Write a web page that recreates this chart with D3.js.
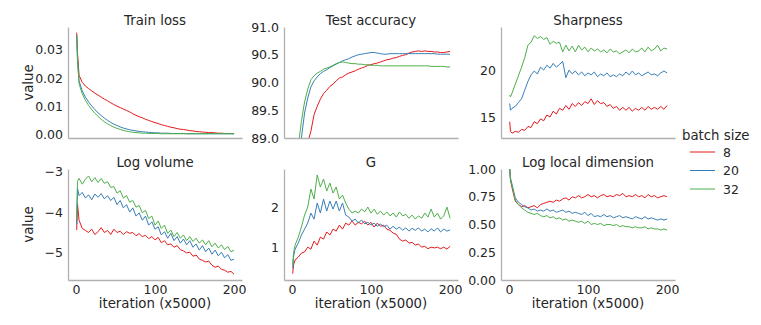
<!DOCTYPE html>
<html>
<head>
<meta charset="utf-8">
<script src="https://cdn.jsdelivr.net/npm/d3@7"></script>
<style>
  body { margin: 0; background: #fff; }
  svg { font-family: "DejaVu Sans", sans-serif; }
</style>
</head>
<body>
<svg id="chart" width="761" height="325"></svg>
<script>
var iters = [1, 2, 4, 8, 12, 16, 20, 24, 28, 32, 36, 40, 44, 48, 52, 56, 60, 64, 68, 72, 76, 80, 84, 88, 92, 96,
    100, 104, 108, 112, 116, 120, 124, 128, 132, 136, 140, 144, 148, 152, 156, 160, 164, 168, 172, 176, 180, 184, 188, 192, 196, 200];

var batchSizes = ["8", "20", "32"];
var colors = ["#e41a1c", "#377eb8", "#4daf4a"];

var trainLoss8 = [0.036, 0.029, 0.021, 0.0185, 0.0172, 0.0163, 0.0155, 0.0147, 0.014, 0.0133, 0.0126, 0.012, 0.0113, 0.0107, 0.0101, 0.0096,
    0.0091, 0.0086, 0.0081, 0.0074, 0.0069, 0.0064, 0.006, 0.0055, 0.0051, 0.0047, 0.0043, 0.004, 0.0036, 0.0033, 0.003, 0.0027, 0.0025,
    0.0022, 0.002, 0.0019, 0.0017, 0.0015, 0.0014, 0.0012, 0.0011, 0.001, 0.0009, 0.0008, 0.0008, 0.0007, 0.0006, 0.0006, 0.0005, 0.0005, 0.0005, 0.0004];
var trainLoss20 = [0.035, 0.027, 0.019, 0.0155, 0.0133, 0.0116, 0.0102, 0.0089, 0.0078, 0.0068, 0.0059, 0.0051, 0.0044, 0.0038, 0.0033, 0.0028,
    0.0024, 0.0021, 0.0018, 0.0016, 0.0014, 0.0012, 0.0011, 0.001, 0.0009, 0.0008, 0.0007, 0.0007, 0.0006, 0.0006, 0.0006, 0.0005, 0.0005,
    0.0005, 0.0005, 0.0005, 0.0004, 0.0004, 0.0004, 0.0004, 0.0004, 0.0004, 0.0004, 0.0004, 0.0004, 0.0004, 0.0004, 0.0004, 0.0004, 0.0004, 0.0004, 0.0004];
var trainLoss32 = [0.035, 0.026, 0.018, 0.0145, 0.0122, 0.0104, 0.0089, 0.0076, 0.0065, 0.0055, 0.0046, 0.0039, 0.0033, 0.0027, 0.0023, 0.0019,
    0.0016, 0.0013, 0.0011, 0.0009, 0.0008, 0.0007, 0.0006, 0.0006, 0.0005, 0.0005, 0.0005, 0.0005, 0.0004, 0.0004, 0.0004, 0.0004, 0.0004,
    0.0004, 0.0004, 0.0004, 0.0004, 0.0004, 0.0004, 0.0004, 0.0004, 0.0004, 0.0004, 0.0004, 0.0004, 0.0004, 0.0004, 0.0004, 0.0004, 0.0004, 0.0004, 0.0004];

var testAcc8 = [86.6, 86.9, 87.4, 88.0, 88.4, 88.7, 88.92, 89.12, 89.42, 89.57, 89.7, 89.8, 89.86, 89.93, 89.97, 90.03, 90.08, 90.1, 90.14,
    90.17, 90.19, 90.21, 90.24, 90.26, 90.28, 90.31, 90.32, 90.34, 90.35, 90.37, 90.39, 90.41, 90.42, 90.44, 90.45, 90.47, 90.49, 90.5,
    90.53, 90.55, 90.56, 90.57, 90.56, 90.57, 90.56, 90.56, 90.55, 90.55, 90.54, 90.54, 90.55, 90.56];
var testAcc20 = [87.6, 87.8, 88.2, 88.65, 89.0, 89.45, 89.72, 89.92, 90.03, 90.1, 90.16, 90.2, 90.23, 90.27, 90.3, 90.33, 90.36, 90.39, 90.41,
    90.43, 90.46, 90.48, 90.5, 90.51, 90.52, 90.53, 90.54, 90.54, 90.53, 90.52, 90.51, 90.51, 90.52, 90.52, 90.52, 90.52, 90.52, 90.52,
    90.52, 90.52, 90.52, 90.52, 90.52, 90.52, 90.52, 90.52, 90.52, 90.51, 90.51, 90.51, 90.51, 90.51];
var testAcc32 = [87.9, 88.1, 88.45, 88.85, 89.3, 89.65, 89.88, 90.05, 90.12, 90.17, 90.2, 90.24, 90.26, 90.28, 90.31, 90.34, 90.36, 90.37, 90.36,
    90.35, 90.34, 90.34, 90.33, 90.33, 90.32, 90.32, 90.31, 90.31, 90.31, 90.3, 90.3, 90.3, 90.3, 90.3, 90.3, 90.3, 90.3, 90.3,
    90.3, 90.3, 90.3, 90.3, 90.3, 90.3, 90.3, 90.29, 90.29, 90.29, 90.29, 90.29, 90.28, 90.28];

var sharp8 = [14.6, 13.6, 13.4, 13.6, 13.5, 13.8, 13.7, 14.1, 14.0, 14.6, 14.4, 14.9, 14.7, 15.3, 15.1, 15.7, 15.4, 16.0, 15.8, 16.3, 15.9,
    16.5, 16.2, 16.6, 16.3, 16.7, 16.5, 17.0, 16.4, 16.8, 16.5, 16.6, 16.2, 16.4, 16.0, 16.2, 15.8, 16.1, 15.8, 16.1, 15.7, 16.0, 15.8,
    16.1, 15.8, 16.2, 15.9, 16.1, 15.9, 16.2, 15.9, 16.3];
var sharp20 = [16.5, 15.8, 16.0, 16.2, 16.6, 17.0, 17.9, 18.8, 19.5, 19.9, 19.6, 20.3, 20.0, 20.5, 20.2, 20.7, 20.3, 20.6, 20.9, 19.2, 20.0,
    19.6, 19.9, 19.5, 19.8, 19.4, 19.7, 19.5, 19.8, 19.3, 19.6, 19.4, 19.7, 19.3, 19.5, 19.3, 19.6, 19.4, 19.8, 19.5, 19.9, 19.5, 19.7,
    19.4, 19.6, 19.8, 19.5, 19.6, 19.4, 19.7, 19.9, 19.7];
var sharp32 = [17.4, 17.2, 17.6, 18.5, 19.4, 20.3, 21.3, 22.6, 22.9, 23.6, 23.3, 23.5, 23.2, 23.4, 22.7, 23.0, 22.8, 22.9, 21.9, 22.6, 22.0,
    22.5, 21.9, 22.6, 22.1, 22.4, 21.9, 22.3, 22.0, 22.2, 21.9, 22.1, 21.8, 22.2, 21.9, 22.0, 21.7, 21.9, 22.1, 21.8, 22.2, 21.9, 22.0,
    22.3, 21.9, 22.4, 22.0, 22.2, 22.6, 22.0, 22.3, 22.2];

var logVol8 = [-4.44, -3.8, -4.2, -4.4, -4.45, -4.5, -4.42, -4.55, -4.48, -4.38, -4.5, -4.45, -4.55, -4.42, -4.5, -4.47, -4.55, -4.48, -4.52,
    -4.5, -4.58, -4.53, -4.6, -4.57, -4.65, -4.6, -4.68, -4.62, -4.75, -4.7, -4.8, -4.78, -4.86, -4.82, -4.92, -4.95, -5.0, -4.98, -5.08,
    -5.05, -5.15, -5.18, -5.22, -5.2, -5.3, -5.35, -5.32, -5.4, -5.42, -5.47, -5.45, -5.52];
var logVol20 = [-4.3, -3.42, -3.6, -3.52, -3.66, -3.58, -3.7, -3.56, -3.64, -3.55, -3.68, -3.6, -3.72, -3.64, -3.82, -3.72, -3.9, -3.82,
    -4.0, -3.9, -4.1, -4.02, -4.2, -4.1, -4.32, -4.24, -4.42, -4.36, -4.56, -4.48, -4.64, -4.52, -4.7, -4.6, -4.76, -4.66, -4.8, -4.7,
    -4.86, -4.78, -4.93, -4.82, -4.97, -4.88, -5.03, -4.93, -5.07, -4.98, -5.12, -5.04, -5.18, -5.15];
var logVol32 = [-4.2, -3.25, -3.18, -3.32, -3.2, -3.12, -3.26, -3.16, -3.28, -3.18, -3.3, -3.26, -3.4, -3.38, -3.54, -3.48, -3.66, -3.6,
    -3.76, -3.72, -3.88, -3.84, -4.02, -3.96, -4.16, -4.1, -4.32, -4.22, -4.4, -4.32, -4.52, -4.44, -4.6, -4.5, -4.64, -4.56, -4.7, -4.6,
    -4.72, -4.64, -4.76, -4.68, -4.8, -4.7, -4.85, -4.76, -4.88, -4.8, -4.92, -4.84, -4.97, -4.93];

var gVal8 = [0.34, 0.55, 0.68, 0.75, 0.85, 0.88, 1.0, 0.95, 1.15, 1.05, 1.25, 1.2, 1.38, 1.3, 1.45, 1.4, 1.55, 1.45, 1.6, 1.55, 1.65, 1.55,
    1.62, 1.58, 1.65, 1.55, 1.62, 1.5, 1.6, 1.52, 1.55, 1.45, 1.42, 1.35, 1.32, 1.2, 1.15, 1.18, 1.1, 1.12, 1.05, 1.08, 1.0, 1.02, 0.96,
    1.0, 0.98, 1.0, 0.96, 1.0, 0.95, 1.02];
var gVal20 = [0.47, 0.75, 0.95, 1.1, 1.3, 1.45, 1.6, 1.85, 1.7, 2.1, 1.85, 2.2, 1.9, 2.15, 1.95, 2.15, 1.9, 2.1, 1.8, 1.75, 1.65, 1.7, 1.6,
    1.68, 1.58, 1.62, 1.55, 1.6, 1.52, 1.58, 1.5, 1.55, 1.45, 1.52, 1.45, 1.5, 1.42, 1.48, 1.4, 1.47, 1.42, 1.48, 1.4, 1.45, 1.38, 1.46,
    1.4, 1.48, 1.38, 1.45, 1.4, 1.43];
var gVal32 = [0.55, 0.85, 1.05, 1.25, 1.5, 1.8, 2.0, 2.45, 2.2, 2.8, 2.5, 2.7, 2.4, 2.6, 2.35, 2.5, 2.2, 2.3, 2.1, 1.95, 1.85, 1.9, 1.85,
    1.95, 1.88, 2.0, 1.85, 1.95, 1.82, 1.9, 1.8, 1.88, 1.78, 1.85, 1.75, 1.88, 1.78, 1.82, 1.72, 1.8, 1.7, 1.78, 1.72, 1.85, 1.75, 1.95,
    1.75, 1.85, 1.7, 1.78, 2.0, 1.72];

var logDim8 = [1.0, 0.9, 0.83, 0.71, 0.68, 0.66, 0.67, 0.65, 0.66, 0.67, 0.65, 0.68, 0.69, 0.7, 0.71, 0.7, 0.72, 0.71, 0.73, 0.74, 0.72,
    0.75, 0.74, 0.76, 0.74, 0.75, 0.77, 0.75, 0.76, 0.74, 0.76, 0.77, 0.75, 0.76, 0.75, 0.77, 0.76, 0.78, 0.75, 0.76, 0.75, 0.77, 0.75,
    0.76, 0.74, 0.77, 0.75, 0.76, 0.74, 0.75, 0.76, 0.75];
var logDim20 = [1.0, 0.92, 0.86, 0.74, 0.7, 0.68, 0.66, 0.65, 0.63, 0.64, 0.62, 0.63, 0.62, 0.64, 0.62, 0.63, 0.61, 0.62, 0.63, 0.61, 0.62,
    0.6, 0.61, 0.6, 0.59, 0.61, 0.58, 0.6, 0.57, 0.58, 0.57, 0.59, 0.57, 0.58, 0.56, 0.57, 0.58, 0.56, 0.57, 0.56, 0.55, 0.57, 0.56,
    0.55, 0.57, 0.55, 0.56, 0.55, 0.54, 0.55, 0.54, 0.55];
var logDim32 = [1.0, 0.9, 0.85, 0.72, 0.68, 0.65, 0.63, 0.61, 0.6, 0.59, 0.6, 0.58, 0.57, 0.58, 0.56, 0.57, 0.55, 0.56, 0.54, 0.55, 0.53,
    0.54, 0.53, 0.52, 0.53, 0.51, 0.53, 0.5, 0.51, 0.5, 0.51, 0.49, 0.5, 0.5, 0.49, 0.5, 0.48, 0.49, 0.48, 0.48, 0.47, 0.48, 0.47,
    0.47, 0.48, 0.46, 0.47, 0.46, 0.46, 0.45, 0.46, 0.45];

var xTicks = [0, 100, 200];

var panels = [
    { title: "Train loss", series: [trainLoss8, trainLoss20, trainLoss32], domain: [-0.0011, 0.038], ticks: [0, 0.01, 0.02, 0.03], fmt: ".2f", col: 0, row: 0 },
    { title: "Test accuracy", series: [testAcc8, testAcc20, testAcc32], domain: [89, 91], ticks: [89, 89.5, 90, 90.5, 91], fmt: ".1f", col: 1, row: 0 },
    { title: "Sharpness", series: [sharp8, sharp20, sharp32], domain: [12.9, 24.5], ticks: [15, 20], fmt: "d", col: 2, row: 0 },
    { title: "Log volume", series: [logVol8, logVol20, logVol32], domain: [-5.66, -2.95], ticks: [-5, -4, -3], fmt: "d", col: 0, row: 1 },
    { title: "G", series: [gVal8, gVal20, gVal32], domain: [0.18, 2.95], ticks: [1, 2], fmt: "d", col: 1, row: 1 },
    { title: "Log local dimension", series: [logDim8, logDim20, logDim32], domain: [0, 1], ticks: [0, 0.25, 0.5, 0.75, 1], fmt: ".2f", col: 2, row: 1 }
];

var svg = d3.select("#chart");
var lefts = [68, 284, 501];
var tops = [27, 169];
var pw = 174, ph = 111;
var axisColor = "#b0b0b0";
var textColor = "#262626";

panels.forEach(function(p, i) {
    var x0 = lefts[p.col], y0 = tops[p.row];
    var g = svg.append("g").attr("transform", "translate(" + x0 + "," + y0 + ")");

    var x = d3.scaleLinear().domain([-10, 210]).range([0, pw]);
    var y = d3.scaleLinear().domain(p.domain).range([ph, 0]);

    g.append("clipPath").attr("id", "clip" + i)
        .append("rect").attr("x", 0).attr("y", -2).attr("width", pw).attr("height", ph + 2);

    var line = d3.line()
        .x(function(d, j) { return x(iters[j]); })
        .y(function(d) { return y(d); });

    var lines = g.append("g").attr("clip-path", "url(#clip" + i + ")");
    p.series.forEach(function(s, k) {
        lines.append("path")
            .datum(s)
            .attr("fill", "none")
            .attr("stroke", colors[k])
            .attr("stroke-width", 1)
            .attr("stroke-linejoin", "round")
            .attr("d", line);
    });

    var fmt = d3.format(p.fmt);
    var yAxis = g.append("g")
        .call(d3.axisLeft(y).tickValues(p.ticks).tickSize(0).tickPadding(5)
            .tickFormat(function(d) { return fmt(d).replace("-", "\u2212"); }));
    yAxis.select(".domain").attr("stroke", axisColor).attr("stroke-width", 1.3);
    yAxis.selectAll("text").attr("fill", textColor).style("font-size", "12.5px").style("font-family", "DejaVu Sans");

    var xAxis = g.append("g").attr("transform", "translate(0," + ph + ")")
        .call(d3.axisBottom(x).tickValues(p.row === 1 ? xTicks : []).tickSize(0).tickPadding(5));
    xAxis.select(".domain").attr("stroke", axisColor).attr("stroke-width", 1.3);
    xAxis.selectAll("text").attr("fill", textColor).style("font-size", "12.5px").style("font-family", "DejaVu Sans");

    g.append("text")
        .attr("x", pw / 2)
        .attr("y", -2)
        .attr("text-anchor", "middle")
        .attr("fill", textColor)
        .style("font-size", "13.3px")
        .text(p.title);

    if (p.row === 1) {
        g.append("text")
            .attr("x", pw / 2)
            .attr("y", ph + 28)
            .attr("text-anchor", "middle")
            .attr("fill", textColor)
            .style("font-size", "13.3px")
            .text("iteration (x5000)");
    }
    if (p.col === 0) {
        g.append("text")
            .attr("transform", "translate(" + (-35) + "," + (ph / 2) + ") rotate(-90)")
            .attr("text-anchor", "middle")
            .attr("fill", textColor)
            .style("font-size", "13.3px")
            .text("value");
    }
});

// legend
var legend = svg.append("g").attr("transform", "translate(682,0)");
legend.append("text")
    .attr("x", 0).attr("y", 140)
    .attr("fill", textColor)
    .style("font-size", "13.3px")
    .text("batch size");
batchSizes.forEach(function(b, k) {
    var ly = 152 + k * 18.5;
    legend.append("line")
        .attr("x1", 8).attr("x2", 33)
        .attr("y1", ly).attr("y2", ly)
        .attr("stroke", colors[k]).attr("stroke-width", 1);
    legend.append("text")
        .attr("x", 41).attr("y", ly + 4.5)
        .attr("fill", textColor)
        .style("font-size", "12.5px")
        .text(b);
});
</script>
</body>
</html>
